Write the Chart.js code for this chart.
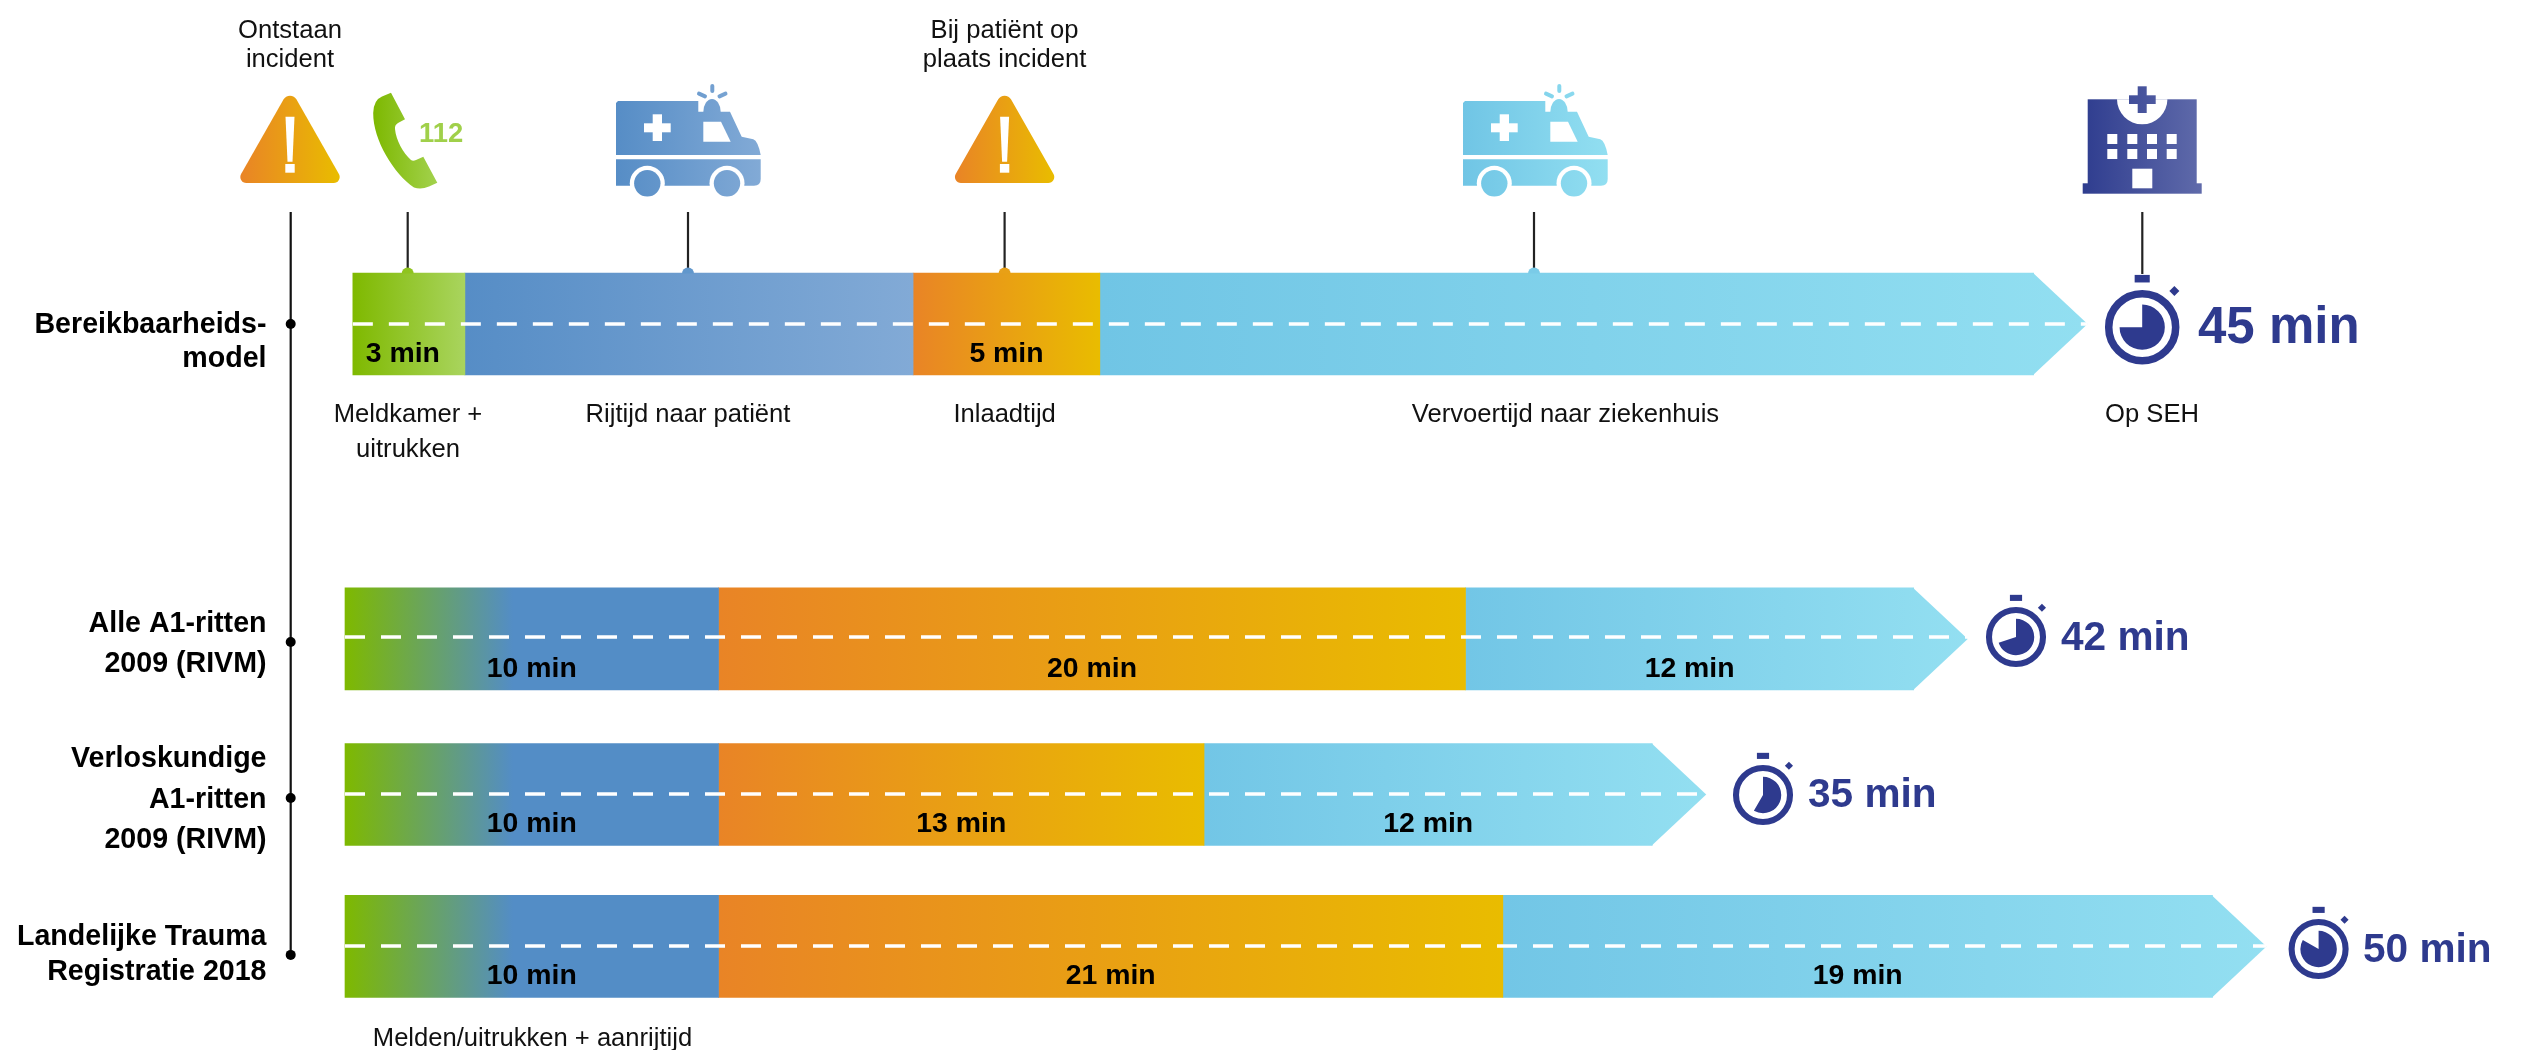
<!DOCTYPE html>
<html lang="nl">
<head>
<meta charset="utf-8">
<title>Bereikbaarheidsmodel</title>
<style>html,body{margin:0;padding:0;background:#fff}canvas{display:block}</style>
<script src="https://cdn.jsdelivr.net/npm/chart.js@4"></script>
</head>
<body>
<canvas id="c" width="2523" height="1050" style="width:2523px;height:1050px"></canvas>
<script>
// ---- data (minutes per phase, top row = model) ----
const rowLabels = [
  ['Bereikbaarheids-', 'model'],
  ['Alle A1-ritten', '2009 (RIVM)'],
  ['Verloskundige', 'A1-ritten', '2009 (RIVM)'],
  ['Landelijke Trauma', 'Registratie 2018']
];
const meldkamer = [3, null, null, null];
const rijtijd   = [12, 10, 10, 10];
const inlaad    = [5, 20, 13, 21];
const vervoer   = [25, 12, 12, 19];
const totals    = [45, 42, 35, 50];
const shownLabels = [
  ['3 min', null, null, null],
  [null, '10 min', '10 min', '10 min'],
  ['5 min', '20 min', '13 min', '21 min'],
  [null, '12 min', '12 min', '19 min']
];
const phaseNames = ['Meldkamer + uitrukken', 'Rijtijd naar patiënt', 'Inlaadtijd', 'Vervoertijd naar ziekenhuis'];

// ---- layout (not data) ----
const rowSlot  = [0, 2.024, 3.024, 4];       // vertical slot of each row on the hidden y axis
const rowStart = [0.21, 0, 0, 0];            // model bar starts a little to the right
const PX_PER_MIN = 37.35, X0 = 345;
const PX_PER_SLOT = 155.6, Y0 = 324;
const FONT = '"Liberation Sans", Arial, sans-serif';
const BAR_H = 102, TIP = 54;

const series = [meldkamer, rijtijd, inlaad, vervoer];
function span(ds, row) {
  let s = rowStart[row];
  for (let i = 0; i < ds; i++) s += series[i][row] || 0;
  const v = series[ds][row];
  return v == null ? null : [s, s + v];
}
const palettes = {
  model: [
    [[0, '#7fb900'], [1, '#a9d45e']],
    [[0, '#568dc6'], [1, '#82aad6']],
    [[0, '#e98426'], [1, '#e9bc00']],
    [[0, '#70c5e5'], [1, '#92dff1']]
  ],
  rows: [
    null,
    [[0, '#7eb900'], [0.45, '#538dc6'], [1, '#538dc6']],
    [[0, '#e98426'], [1, '#e9bc00']],
    [[0, '#72c6e6'], [1, '#93dff1']]
  ]
};
function fillFor(c) {
  const ds = c.datasetIndex;
  const row = c.raw ? rowSlot.indexOf(c.raw.y) : -1;
  if (row < 0) return '#ccc';
  const sp = span(ds, row);
  const xs = c.chart.scales.x;
  if (!sp || !xs) return '#ccc';
  const x1 = xs.getPixelForValue(sp[0]);
  let x2 = xs.getPixelForValue(sp[1]);
  if (!Number.isFinite(x1) || !Number.isFinite(x2)) return '#ccc';
  if (ds === 3) x2 += TIP;
  const g = c.chart.ctx.createLinearGradient(x1, 0, x2, 0);
  const stops = (row === 0 ? palettes.model : palettes.rows)[ds];
  stops.forEach(s => g.addColorStop(s[0], s[1]));
  return g;
}

// ---- icon helpers ----
function grad(ctx, x1, x2, a, b) {
  const g = ctx.createLinearGradient(x1, 0, x2, 0);
  g.addColorStop(0, a); g.addColorStop(1, b);
  return g;
}
function warning(ctx, cx) {
  ctx.save();
  ctx.fillStyle = grad(ctx, cx - 49, cx + 49, '#e98426', '#e9bc00');
  ctx.beginPath();
  ctx.moveTo(cx, 183);
  ctx.arcTo(cx + 54, 183, cx, 88, 6);
  ctx.arcTo(cx, 88, cx - 54, 183, 7.5);
  ctx.arcTo(cx - 54, 183, cx, 183, 6);
  ctx.closePath();
  ctx.fill();
  ctx.fillStyle = '#fff';
  ctx.beginPath();
  ctx.moveTo(cx - 4.5, 116.7); ctx.lineTo(cx + 4.5, 116.7); ctx.lineTo(cx + 2.5, 161.7); ctx.lineTo(cx - 2.5, 161.7);
  ctx.closePath(); ctx.fill();
  ctx.fillRect(cx - 4.7, 164, 9.4, 8.7);
  ctx.restore();
}
function phone(ctx) {
  ctx.save();
  ctx.fillStyle = grad(ctx, 373, 438, '#7db800', '#a3d24e');
  ctx.beginPath();
  ctx.moveTo(391, 92.7);
  ctx.lineTo(405, 119.3);
  ctx.lineTo(398, 123);
  ctx.quadraticCurveTo(394.5, 125, 395, 129);
  ctx.bezierCurveTo(396, 140, 403, 153, 411, 160);
  ctx.quadraticCurveTo(413, 161.5, 416, 160);
  ctx.lineTo(423.3, 156.7);
  ctx.lineTo(437.3, 182.7);
  ctx.lineTo(429, 186.5);
  ctx.quadraticCurveTo(421, 190, 414, 187.5);
  ctx.bezierCurveTo(394, 174, 373, 140, 373.2, 113);
  ctx.quadraticCurveTo(373.5, 100, 382, 96.5);
  ctx.closePath();
  ctx.fill();
  ctx.restore();
}
function ambulance(ctx, dx, a, b) {
  ctx.save();
  ctx.translate(dx, 0);
  const fill = grad(ctx, 616, 761, a, b);
  ctx.fillStyle = fill; ctx.strokeStyle = fill;
  // box + cabin
  ctx.beginPath();
  ctx.moveTo(618, 101); ctx.lineTo(698.3, 101); ctx.lineTo(698.3, 111.7);
  ctx.lineTo(730, 111.7); ctx.lineTo(741.7, 136.7); ctx.lineTo(753.3, 139.3);
  ctx.quadraticCurveTo(758, 141, 760.7, 155);
  ctx.lineTo(616, 155); ctx.lineTo(616, 103);
  ctx.closePath(); ctx.fill();
  // beacon
  ctx.beginPath();
  ctx.ellipse(712, 112, 8.7, 13, 0, Math.PI, 0);
  ctx.fill();
  // rays
  ctx.lineCap = 'round'; ctx.lineWidth = 4;
  [[712.3, 86, 712.3, 91], [699, 93.7, 705, 96.3], [725.5, 93.7, 719.5, 96.3]].forEach(r => {
    ctx.beginPath(); ctx.moveTo(r[0], r[1]); ctx.lineTo(r[2], r[3]); ctx.stroke();
  });
  // lower body
  ctx.beginPath();
  ctx.moveTo(616, 159.3); ctx.lineTo(760.7, 159.3); ctx.lineTo(760.7, 179);
  ctx.quadraticCurveTo(760.7, 185.7, 754, 185.7); ctx.lineTo(616, 185.7);
  ctx.closePath(); ctx.fill();
  // cross, window
  ctx.fillStyle = '#fff';
  ctx.fillRect(652.7, 114.3, 9.3, 26.7);
  ctx.fillRect(644, 123.3, 26.7, 9);
  ctx.beginPath();
  ctx.moveTo(703.3, 121.7); ctx.lineTo(721, 121.7); ctx.lineTo(730.7, 141.7); ctx.lineTo(703.3, 141.7);
  ctx.closePath(); ctx.fill();
  // wheels
  [647.3, 727].forEach(x => {
    ctx.fillStyle = '#fff';
    ctx.beginPath(); ctx.arc(x, 183.3, 17.5, 0, Math.PI * 2); ctx.fill();
    ctx.fillStyle = fill;
    ctx.beginPath(); ctx.arc(x, 183.3, 13.2, 0, Math.PI * 2); ctx.fill();
  });
  ctx.restore();
}
function hospital(ctx) {
  ctx.save();
  const fill = grad(ctx, 2083, 2201, '#2f3d8f', '#5f6aaa');
  ctx.fillStyle = fill;
  ctx.fillRect(2087.7, 99.3, 109, 86);
  ctx.fillRect(2082.7, 183.3, 119, 10.4);
  ctx.fillStyle = '#fff';
  ctx.beginPath();
  ctx.moveTo(2117, 99.3); ctx.lineTo(2167.4, 99.3);
  ctx.ellipse(2142.2, 99.3, 25.2, 25, 0, 0, Math.PI);
  ctx.closePath(); ctx.fill();
  [2107.3, 2127.3, 2147, 2166.7].forEach(x => {
    ctx.fillRect(x, 134, 10, 10);
    ctx.fillRect(x, 149, 10, 10);
  });
  ctx.fillRect(2132.3, 168.7, 20, 19.6);
  ctx.fillStyle = fill;
  ctx.fillRect(2137.7, 86.3, 9, 26.7);
  ctx.fillRect(2129, 95.3, 26.7, 8.7);
  ctx.restore();
}
function stopwatch(ctx, cx, cy, r, minutes) {
  const k = r / 37, col = '#2e3a8e';
  ctx.save();
  ctx.translate(cx, cy);
  ctx.scale(k, k);
  ctx.fillStyle = col; ctx.strokeStyle = col;
  ctx.lineWidth = 7.5;
  ctx.beginPath(); ctx.arc(0, 0, 33.3, 0, Math.PI * 2); ctx.stroke();
  ctx.fillRect(-7.5, -52, 15, 7.5);
  ctx.beginPath();
  ctx.moveTo(32, -41); ctx.lineTo(37, -36); ctx.lineTo(32, -31); ctx.lineTo(27, -36);
  ctx.closePath(); ctx.fill();
  const start = -Math.PI / 2;
  ctx.beginPath();
  ctx.moveTo(0, 0);
  ctx.arc(0, 0, 22.5, start, start + (minutes / 60) * Math.PI * 2);
  ctx.closePath(); ctx.fill();
  ctx.restore();
}
function text(ctx, s, x, y, size, bold, align, color) {
  ctx.font = (bold ? 'bold ' : '') + size + 'px ' + FONT;
  ctx.textAlign = align || 'center';
  ctx.textBaseline = 'middle';
  ctx.fillStyle = color || '#111';
  ctx.fillText(s, x, y + size * 0.07);
}

const timelinePlugin = {
  id: 'timeline',
  afterDatasetsDraw(chart) {
    const ctx = chart.ctx;
    const ys = chart.scales.y, xs = chart.scales.x;
    const elems = i => chart.getDatasetMeta(i).data;
    ctx.save();

    // arrow heads of the last phase
    elems(3).forEach(el => {
      const top = el.y - BAR_H / 2, bot = el.y + BAR_H / 2;
      ctx.fillStyle = el.options.backgroundColor;
      ctx.beginPath();
      ctx.moveTo(el.x - 0.5, top); ctx.lineTo(el.x + TIP, el.y); ctx.lineTo(el.x - 0.5, bot);
      ctx.closePath(); ctx.fill();
    });

    // white dashed centre lines
    ctx.strokeStyle = '#fff'; ctx.lineWidth = 3.5; ctx.setLineDash([20, 16]);
    const dashShift = [0, -2, -0.5, -0.5];
    rowSlot.forEach((s, row) => {
      const y = ys.getPixelForValue(s) + dashShift[row];
      const first = row === 0 ? xs.getPixelForValue(rowStart[0]) : xs.getPixelForValue(0);
      const end = elems(3)[row].x + TIP;
      ctx.beginPath(); ctx.moveTo(first, y); ctx.lineTo(end, y); ctx.stroke();
    });
    ctx.setLineDash([]);

    // vertical timeline with row dots
    const dotY = [0, 3, 3.5, 8.5];
    const axisX = 290.7;
    ctx.strokeStyle = '#111'; ctx.lineWidth = 2.2;
    ctx.beginPath(); ctx.moveTo(axisX, 212);
    ctx.lineTo(axisX, ys.getPixelForValue(rowSlot[3]) + dotY[3]); ctx.stroke();
    ctx.fillStyle = '#000';
    rowSlot.forEach((s, row) => {
      ctx.beginPath();
      ctx.arc(axisX, ys.getPixelForValue(s) + dotY[row], 5, 0, Math.PI * 2);
      ctx.fill();
    });

    // callout ticks
    const callouts = [[407.7, '#8fc41f'], [688, '#6197cc'], [1004.6, '#e8a016'], [1534, '#7acbe8']];
    const barTop = ys.getPixelForValue(0) - BAR_H / 2;
    callouts.forEach(c => {
      ctx.strokeStyle = '#222'; ctx.lineWidth = 2.2;
      ctx.beginPath(); ctx.moveTo(c[0], 212); ctx.lineTo(c[0], barTop - 3); ctx.stroke();
      ctx.fillStyle = c[1];
      ctx.beginPath(); ctx.arc(c[0], barTop + 0.5, 6, Math.PI, 0); ctx.fill();
    });
    ctx.strokeStyle = '#222'; ctx.lineWidth = 2.2;
    ctx.beginPath(); ctx.moveTo(2142.3, 212); ctx.lineTo(2142.3, 274); ctx.stroke();

    // icons
    warning(ctx, 290);
    warning(ctx, 1004.6);
    phone(ctx);
    ambulance(ctx, 0, '#568dc6', '#82aad6');
    ambulance(ctx, 847, '#70c5e5', '#92dff1');
    hospital(ctx);

    // stopwatches + totals
    const watches = [[2142.2, 327.2, 37.2, 2198, 325, 51], [2016, 637, 30, 2061, 636, 40.6],
                     [1763, 795, 30, 1808, 793, 40.6], [2318.6, 949, 30, 2363, 948, 40.6]];
    watches.forEach((w, row) => {
      stopwatch(ctx, w[0], w[1], w[2], totals[row]);
      text(ctx, totals[row] + ' min', w[3], w[4], w[5], true, 'left', '#2e3a8e');
    });

    // values inside the bars
    shownLabels.forEach((labels, ds) => {
      labels.forEach((s, row) => {
        if (!s) return;
        const sp = span(ds, row);
        const x = (xs.getPixelForValue(sp[0]) + xs.getPixelForValue(sp[1])) / 2;
        const nudge = s === '3 min' ? -6 : 0;
        text(ctx, s, x + nudge, ys.getPixelForValue(rowSlot[row]) + 28, 28.4, true, 'center', '#000');
      });
    });

    // row labels
    const labelY = [[323, 357], [622, 662], [757, 798, 838], [935, 970]];
    rowLabels.forEach((lines, row) => {
      lines.forEach((s, i) => text(ctx, s, 266.5, labelY[row][i], 28.6, true, 'right', '#000'));
    });

    // top captions
    text(ctx, 'Ontstaan', 290, 29, 25.6);
    text(ctx, 'incident', 290, 58, 25.6);
    text(ctx, 'Bij patiënt op', 1004.6, 29, 25.6);
    text(ctx, 'plaats incident', 1004.6, 58, 25.6);
    text(ctx, '112', 419, 133, 27.4, true, 'left', '#a0d04a');

    // phase captions
    text(ctx, 'Meldkamer +', 408, 413, 25.6);
    text(ctx, 'uitrukken', 408, 448, 25.6);
    text(ctx, phaseNames[1], 688, 413, 25.6);
    text(ctx, phaseNames[2], 1004.6, 413, 25.6);
    text(ctx, phaseNames[3], 1565.5, 413, 25.6);
    text(ctx, 'Op SEH', 2152, 413, 25.6);
    text(ctx, 'Melden/uitrukken + aanrijtijd', 532.5, 1037, 25.6);
    ctx.restore();
  }
};

new Chart(document.getElementById('c'), {
  type: 'bar',
  data: {
    datasets: series.map((vals, ds) => ({
      label: phaseNames[ds],
      data: vals.map((v, row) => ({ x: span(ds, row), y: rowSlot[row] })).filter(p => p.x),
      backgroundColor: fillFor,
      borderWidth: 0,
      barThickness: BAR_H
    }))
  },
  options: {
    indexAxis: 'y',
    responsive: false,
    animation: false,
    devicePixelRatio: 1,
    layout: { padding: 0 },
    plugins: { legend: { display: false }, tooltip: { enabled: false } },
    datasets: { bar: { grouped: false } },
    scales: {
      x: { type: 'linear', display: false, offset: false, min: -X0 / PX_PER_MIN, max: (2523 - X0) / PX_PER_MIN },
      y: { type: 'linear', display: false, offset: false, reverse: true, min: -Y0 / PX_PER_SLOT, max: (1050 - Y0) / PX_PER_SLOT }
    }
  },
  plugins: [timelinePlugin]
});
</script>
</body>
</html>
